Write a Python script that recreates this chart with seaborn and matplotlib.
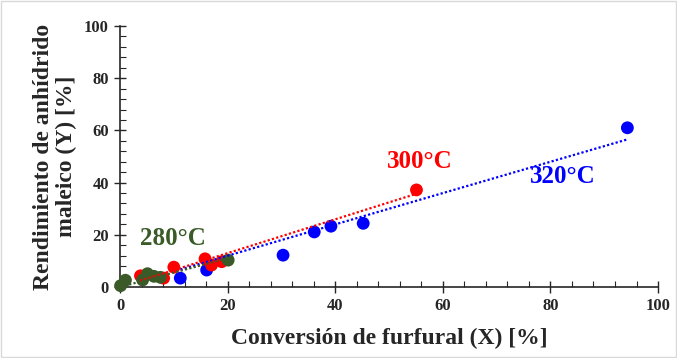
import numpy as np
import pandas as pd
import matplotlib
matplotlib.use("Agg")
import matplotlib.pyplot as plt
from matplotlib.ticker import MultipleLocator
import seaborn as sns

# datos
x_320 = [11.2, 16.1, 30.3, 36.1, 39.2, 45.2, 94.3]
y_320 = [3.4, 6.5, 12.2, 21.1, 23.3, 24.4, 61.0]

x_300 = [3.8, 8.1, 10.0, 15.8, 17.0, 18.9, 55.1]
y_300 = [4.3, 3.4, 7.6, 10.8, 8.4, 9.7, 37.2]

x_280 = [0.1, 1.0, 4.2, 5.1, 6.3, 7.5, 20.1]
y_280 = [0.5, 2.6, 2.7, 5.1, 4.1, 3.7, 10.3]

temps = ["320°C", "300°C", "280°C"]
colores = {"320°C": "#0000FF", "300°C": "#FF0000", "280°C": "#3A5A28"}

df = pd.concat([
    pd.DataFrame({"X": x_320, "Y": y_320, "T": "320°C"}),
    pd.DataFrame({"X": x_300, "Y": y_300, "T": "300°C"}),
    pd.DataFrame({"X": x_280, "Y": y_280, "T": "280°C"}),
])

# linea de tendencia lineal con intercepto = 0 (como en Excel)
fits = []
for t in temps:
    sub = df[df["T"] == t]
    m = (sub["X"] * sub["Y"]).sum() / (sub["X"] ** 2).sum()
    xs = np.array([sub["X"].min(), sub["X"].max()])
    fits.append(pd.DataFrame({"X": xs, "Y": m * xs, "T": t}))
fits = pd.concat(fits)

sns.set_style("ticks")
plt.rcParams["font.family"] = ["Liberation Serif", "DejaVu Serif"]
plt.rcParams["font.weight"] = "bold"

fig = plt.figure(figsize=(6.77, 3.58), dpi=100)
ax = fig.add_axes([0.1773, 0.1983, 0.7947, 0.7291])

for t in temps:
    sns.scatterplot(data=df[df["T"] == t], x="X", y="Y", color=colores[t], s=85, edgecolor="none",
                    ax=ax, zorder=3, clip_on=False, legend=False)
for t in temps:
    sns.lineplot(data=fits[fits["T"] == t], x="X", y="Y", color=colores[t], linestyle=(0, (1, 1)),
                 lw=1.6, ax=ax, zorder=4, legend=False)

ax.set_xlim(0, 100)
ax.set_ylim(0, 100)
ax.xaxis.set_major_locator(MultipleLocator(20))
ax.xaxis.set_minor_locator(MultipleLocator(4))
ax.yaxis.set_major_locator(MultipleLocator(20))
ax.yaxis.set_minor_locator(MultipleLocator(4))
ax.tick_params(which="major", direction="inout", length=8, width=1, labelsize=12, pad=4)
ax.tick_params(which="minor", direction="in", length=4, width=0.8)
sns.despine(ax=ax)
for s in ["left", "bottom"]:
    ax.spines[s].set_linewidth(1.2)
for lbl in ax.get_xticklabels() + ax.get_yticklabels():
    lbl.set_fontweight("bold")

ax.set_xlabel("Conversión de furfural (X) [%]", fontsize=17, fontweight="bold", labelpad=10)
ax.set_ylabel("Rendimiento de anhídrido\nmaleico (Y) [%]", fontsize=17, fontweight="bold",
              labelpad=5, linespacing=1.15)

ax.text(3.7, 16, "280°C", color=colores["280°C"], fontsize=18, fontweight="bold")
ax.text(49.6, 45.6, "300°C", color=colores["300°C"], fontsize=18, fontweight="bold")
ax.text(76.2, 39.8, "320°C", color=colores["320°C"], fontsize=18, fontweight="bold")

fig.patches.append(plt.Rectangle((0.002, 0.003), 0.996, 0.994, transform=fig.transFigure,
                                 fill=False, edgecolor="#D9D9D9", lw=1))

fig.savefig("out.png", dpi=100)
